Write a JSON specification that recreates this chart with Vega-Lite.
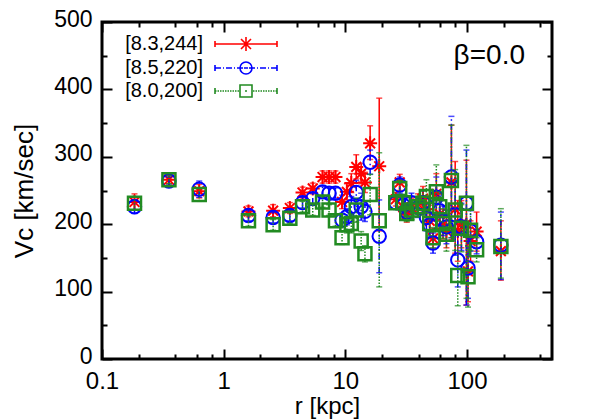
{
"$schema": "https://vega.github.io/schema/vega-lite/v6.json",
"width": 450, "height": 337,
"autosize": {"type": "none"},
"padding": {"left": 102, "top": 22, "right": 46, "bottom": 60},
"background": "white",
"title": {"text": "β=0.0", "anchor": "end", "orient": "top", "frame": "group", "fontSize": 28, "fontWeight": "normal", "font": "Liberation Sans", "color": "black", "baseline": "alphabetic", "offset": 0, "dx": -27, "dy": 84},
"config": {
  "view": {"stroke": "black", "strokeWidth": 3},
  "font": "Liberation Sans",
  "axis": {"grid": false, "domain": false, "tickColor": "black", "tickWidth": 2, "labelColor": "black", "titleColor": "black", "labelFont": "Liberation Sans", "titleFont": "Liberation Sans", "labelFontSize": 23, "titleFontSize": 24, "titleFontWeight": "normal", "labelFlush": false, "labelOverlap": false}
},
"datasets": {"pts": [
{"s":"[8.3,244]","r":0.185,"v":233,"lo":221,"hi":245},
{"s":"[8.3,244]","r":0.355,"v":266,"lo":260,"hi":272},
{"s":"[8.3,244]","r":0.63,"v":249,"lo":239,"hi":259},
{"s":"[8.3,244]","r":1.6,"v":219,"lo":211,"hi":227},
{"s":"[8.3,244]","r":2.55,"v":220,"lo":211,"hi":229},
{"s":"[8.3,244]","r":3.5,"v":224,"lo":216,"hi":232},
{"s":"[8.3,244]","r":4.45,"v":247,"lo":239,"hi":255},
{"s":"[8.3,244]","r":5.4,"v":253,"lo":245,"hi":261},
{"s":"[8.3,244]","r":6.5,"v":270,"lo":261,"hi":279},
{"s":"[8.3,244]","r":7.35,"v":270,"lo":261,"hi":279},
{"s":"[8.3,244]","r":8.3,"v":270,"lo":261,"hi":279},
{"s":"[8.3,244]","r":9.4,"v":233,"lo":223,"hi":243},
{"s":"[8.3,244]","r":10.3,"v":248,"lo":236,"hi":260},
{"s":"[8.3,244]","r":11.2,"v":261,"lo":247,"hi":275},
{"s":"[8.3,244]","r":12.3,"v":285,"lo":267,"hi":303},
{"s":"[8.3,244]","r":13.5,"v":275,"lo":260,"hi":290},
{"s":"[8.3,244]","r":14.5,"v":262,"lo":247,"hi":277},
{"s":"[8.3,244]","r":16.0,"v":320,"lo":296,"hi":346},
{"s":"[8.3,244]","r":19.0,"v":286,"lo":190,"hi":387},
{"s":"[8.3,244]","r":26,"v":237,"lo":227,"hi":247},
{"s":"[8.3,244]","r":28,"v":262,"lo":250,"hi":274},
{"s":"[8.3,244]","r":30,"v":225,"lo":213,"hi":237},
{"s":"[8.3,244]","r":32,"v":215,"lo":203,"hi":227},
{"s":"[8.3,244]","r":35,"v":225,"lo":211,"hi":239},
{"s":"[8.3,244]","r":39.6,"v":230,"lo":215,"hi":245},
{"s":"[8.3,244]","r":43.5,"v":238,"lo":220,"hi":256},
{"s":"[8.3,244]","r":46.4,"v":222,"lo":202,"hi":242},
{"s":"[8.3,244]","r":49.4,"v":205,"lo":187,"hi":223},
{"s":"[8.3,244]","r":52.6,"v":179,"lo":164,"hi":194},
{"s":"[8.3,244]","r":56,"v":245,"lo":215,"hi":275},
{"s":"[8.3,244]","r":59.7,"v":215,"lo":193,"hi":237},
{"s":"[8.3,244]","r":63.6,"v":200,"lo":178,"hi":222},
{"s":"[8.3,244]","r":67.8,"v":190,"lo":165,"hi":215},
{"s":"[8.3,244]","r":74.5,"v":262,"lo":177,"hi":347},
{"s":"[8.3,244]","r":80,"v":222,"lo":157,"hi":293},
{"s":"[8.3,244]","r":84,"v":190,"lo":145,"hi":235},
{"s":"[8.3,244]","r":90,"v":200,"lo":165,"hi":235},
{"s":"[8.3,244]","r":99,"v":200,"lo":80,"hi":295},
{"s":"[8.3,244]","r":102,"v":130,"lo":85,"hi":175},
{"s":"[8.3,244]","r":107,"v":175,"lo":145,"hi":205},
{"s":"[8.3,244]","r":120,"v":189,"lo":160,"hi":218},
{"s":"[8.3,244]","r":190,"v":160,"lo":117,"hi":205},
{"s":"[8.5,220]","r":0.185,"v":226,"lo":216,"hi":236},
{"s":"[8.5,220]","r":0.355,"v":264,"lo":258,"hi":270},
{"s":"[8.5,220]","r":0.63,"v":252,"lo":240,"hi":264},
{"s":"[8.5,220]","r":1.6,"v":213,"lo":205,"hi":221},
{"s":"[8.5,220]","r":2.55,"v":210,"lo":202,"hi":218},
{"s":"[8.5,220]","r":3.5,"v":213,"lo":205,"hi":221},
{"s":"[8.5,220]","r":4.45,"v":232,"lo":224,"hi":240},
{"s":"[8.5,220]","r":5.4,"v":238,"lo":230,"hi":246},
{"s":"[8.5,220]","r":6.5,"v":248,"lo":240,"hi":256},
{"s":"[8.5,220]","r":7.35,"v":246,"lo":238,"hi":254},
{"s":"[8.5,220]","r":8.3,"v":246,"lo":238,"hi":254},
{"s":"[8.5,220]","r":9.4,"v":206,"lo":196,"hi":216},
{"s":"[8.5,220]","r":10.3,"v":211,"lo":199,"hi":223},
{"s":"[8.5,220]","r":11.2,"v":226,"lo":211,"hi":241},
{"s":"[8.5,220]","r":12.3,"v":247,"lo":229,"hi":265},
{"s":"[8.5,220]","r":13.5,"v":226,"lo":206,"hi":246},
{"s":"[8.5,220]","r":14.5,"v":219,"lo":204,"hi":234},
{"s":"[8.5,220]","r":16.0,"v":292,"lo":274,"hi":310},
{"s":"[8.5,220]","r":19.0,"v":182,"lo":128,"hi":236},
{"s":"[8.5,220]","r":26,"v":232,"lo":222,"hi":242},
{"s":"[8.5,220]","r":28,"v":258,"lo":246,"hi":270},
{"s":"[8.5,220]","r":30,"v":228,"lo":216,"hi":240},
{"s":"[8.5,220]","r":32,"v":218,"lo":206,"hi":230},
{"s":"[8.5,220]","r":35,"v":232,"lo":218,"hi":246},
{"s":"[8.5,220]","r":39.6,"v":225,"lo":210,"hi":240},
{"s":"[8.5,220]","r":43.5,"v":232,"lo":214,"hi":250},
{"s":"[8.5,220]","r":46.4,"v":210,"lo":190,"hi":230},
{"s":"[8.5,220]","r":49.4,"v":199,"lo":181,"hi":217},
{"s":"[8.5,220]","r":52.6,"v":172,"lo":157,"hi":187},
{"s":"[8.5,220]","r":56,"v":240,"lo":210,"hi":270},
{"s":"[8.5,220]","r":59.7,"v":220,"lo":198,"hi":242},
{"s":"[8.5,220]","r":63.6,"v":205,"lo":183,"hi":227},
{"s":"[8.5,220]","r":67.8,"v":196,"lo":171,"hi":221},
{"s":"[8.5,220]","r":74.5,"v":270,"lo":180,"hi":360},
{"s":"[8.5,220]","r":80,"v":214,"lo":154,"hi":274},
{"s":"[8.5,220]","r":84,"v":147,"lo":107,"hi":187},
{"s":"[8.5,220]","r":90,"v":196,"lo":161,"hi":231},
{"s":"[8.5,220]","r":99,"v":231,"lo":80,"hi":310},
{"s":"[8.5,220]","r":102,"v":135,"lo":90,"hi":180},
{"s":"[8.5,220]","r":107,"v":190,"lo":160,"hi":220},
{"s":"[8.5,220]","r":120,"v":174,"lo":156,"hi":192},
{"s":"[8.5,220]","r":190,"v":169,"lo":118,"hi":218},
{"s":"[8.0,200]","r":0.185,"v":231,"lo":221,"hi":241},
{"s":"[8.0,200]","r":0.355,"v":266,"lo":260,"hi":272},
{"s":"[8.0,200]","r":0.63,"v":244,"lo":234,"hi":254},
{"s":"[8.0,200]","r":1.6,"v":205,"lo":197,"hi":213},
{"s":"[8.0,200]","r":2.55,"v":199,"lo":191,"hi":207},
{"s":"[8.0,200]","r":3.5,"v":209,"lo":201,"hi":217},
{"s":"[8.0,200]","r":4.45,"v":226,"lo":218,"hi":234},
{"s":"[8.0,200]","r":5.4,"v":221,"lo":213,"hi":229},
{"s":"[8.0,200]","r":6.5,"v":233,"lo":225,"hi":241},
{"s":"[8.0,200]","r":7.35,"v":221,"lo":213,"hi":229},
{"s":"[8.0,200]","r":8.3,"v":205,"lo":197,"hi":213},
{"s":"[8.0,200]","r":9.4,"v":180,"lo":170,"hi":190},
{"s":"[8.0,200]","r":10.3,"v":199,"lo":187,"hi":211},
{"s":"[8.0,200]","r":11.2,"v":201,"lo":187,"hi":215},
{"s":"[8.0,200]","r":12.3,"v":221,"lo":203,"hi":239},
{"s":"[8.0,200]","r":13.5,"v":175,"lo":161,"hi":189},
{"s":"[8.0,200]","r":14.5,"v":156,"lo":144,"hi":168},
{"s":"[8.0,200]","r":16.0,"v":244,"lo":214,"hi":274},
{"s":"[8.0,200]","r":19.0,"v":205,"lo":107,"hi":306},
{"s":"[8.0,200]","r":26,"v":232,"lo":222,"hi":242},
{"s":"[8.0,200]","r":28,"v":253,"lo":241,"hi":265},
{"s":"[8.0,200]","r":30,"v":232,"lo":220,"hi":244},
{"s":"[8.0,200]","r":32,"v":216,"lo":204,"hi":228},
{"s":"[8.0,200]","r":35,"v":221,"lo":207,"hi":235},
{"s":"[8.0,200]","r":39.6,"v":226,"lo":211,"hi":241},
{"s":"[8.0,200]","r":43.5,"v":231,"lo":213,"hi":249},
{"s":"[8.0,200]","r":46.4,"v":241,"lo":216,"hi":266},
{"s":"[8.0,200]","r":49.4,"v":201,"lo":183,"hi":219},
{"s":"[8.0,200]","r":52.6,"v":180,"lo":165,"hi":195},
{"s":"[8.0,200]","r":56,"v":248,"lo":213,"hi":288},
{"s":"[8.0,200]","r":59.7,"v":226,"lo":204,"hi":248},
{"s":"[8.0,200]","r":63.6,"v":201,"lo":179,"hi":223},
{"s":"[8.0,200]","r":67.8,"v":185,"lo":160,"hi":210},
{"s":"[8.0,200]","r":74.5,"v":265,"lo":180,"hi":347},
{"s":"[8.0,200]","r":80,"v":221,"lo":161,"hi":281},
{"s":"[8.0,200]","r":84,"v":124,"lo":79,"hi":169},
{"s":"[8.0,200]","r":90,"v":194,"lo":159,"hi":229},
{"s":"[8.0,200]","r":99,"v":231,"lo":90,"hi":317},
{"s":"[8.0,200]","r":102,"v":122,"lo":77,"hi":167},
{"s":"[8.0,200]","r":107,"v":191,"lo":161,"hi":221},
{"s":"[8.0,200]","r":120,"v":162,"lo":144,"hi":180},
{"s":"[8.0,200]","r":190,"v":167,"lo":120,"hi":223}
]},
"data": {"name": "pts"},
"resolve": {"axis": {"x": "independent", "y": "independent"}},
"layer": [
  {"transform": [{"filter": "datum.s == '[8.3,244]'"}],
   "mark": {"type": "rule", "strokeWidth": 1.5, "color": "#ff0000"},
   "encoding": {
    "x": {"field": "r", "type": "quantitative", "scale": {"type": "log", "domain": [0.1, 500], "nice": false},
          "axis": {"orient": "bottom", "values": [0.1, 1, 10, 100], "format": "~g", "tickSize": -10, "labelPadding": 20, "labelFontSize": 24, "title": "r [kpc]", "titlePadding": 1}},
    "y": {"field": "lo", "type": "quantitative", "scale": {"domain": [0, 500], "nice": false},
          "axis": {"orient": "left", "values": [0, 100, 200, 300, 400, 500], "tickSize": -10, "labelPadding": 20, "labelOffset": -3, "title": "Vc [km/sec]", "titleFontSize": 26, "titlePadding": 16}},
    "y2": {"field": "hi"}}},
  {"transform": [{"filter": "datum.s == '[8.3,244]'"}],
   "mark": {"type": "tick", "orient": "horizontal", "size": 6, "thickness": 1.5, "color": "#ff0000"},
   "encoding": {"x": {"field": "r", "type": "quantitative", "axis": null}, "y": {"field": "lo", "type": "quantitative", "axis": null}}},
  {"transform": [{"filter": "datum.s == '[8.3,244]'"}],
   "mark": {"type": "tick", "orient": "horizontal", "size": 6, "thickness": 1.5, "color": "#ff0000"},
   "encoding": {"x": {"field": "r", "type": "quantitative", "axis": null}, "y": {"field": "hi", "type": "quantitative", "axis": null}}},
  {"transform": [{"filter": "datum.s == '[8.3,244]'"}],
   "mark": {"type": "point", "shape": "M-1,0H1M0,-1V1M-0.7,-0.7L0.7,0.7M-0.7,0.7L0.7,-0.7", "size": 196, "strokeWidth": 2, "filled": false, "opacity": 1, "color": "#ff0000"},
   "encoding": {"x": {"field": "r", "type": "quantitative", "axis": null}, "y": {"field": "v", "type": "quantitative", "axis": null}}},
  {"transform": [{"filter": "datum.s == '[8.5,220]'"}],
   "mark": {"type": "rule", "strokeWidth": 1.5, "strokeDash": [6, 3, 1.5, 3], "color": "#0000ff"},
   "encoding": {
    "x": {"field": "r", "type": "quantitative", "axis": {"orient": "bottom", "values": [0.2,0.4,0.6,0.8,2,4,6,8,20,40,60,80,200,400], "tickSize": -5, "labels": false, "title": null}},
    "y": {"field": "lo", "type": "quantitative", "axis": {"orient": "left", "values": [50,150,250,350,450], "tickSize": -5, "labels": false, "title": null}},
    "y2": {"field": "hi"}}},
  {"transform": [{"filter": "datum.s == '[8.5,220]'"}],
   "mark": {"type": "tick", "orient": "horizontal", "size": 6, "thickness": 1.5, "color": "#0000ff"},
   "encoding": {"x": {"field": "r", "type": "quantitative", "axis": null}, "y": {"field": "lo", "type": "quantitative", "axis": null}}},
  {"transform": [{"filter": "datum.s == '[8.5,220]'"}],
   "mark": {"type": "tick", "orient": "horizontal", "size": 6, "thickness": 1.5, "color": "#0000ff"},
   "encoding": {"x": {"field": "r", "type": "quantitative", "axis": null}, "y": {"field": "hi", "type": "quantitative", "axis": null}}},
  {"transform": [{"filter": "datum.s == '[8.5,220]'"}],
   "mark": {"type": "point", "shape": "circle", "size": 180, "strokeWidth": 2, "filled": false, "opacity": 1, "color": "#0000ff"},
   "encoding": {"x": {"field": "r", "type": "quantitative", "axis": null}, "y": {"field": "v", "type": "quantitative", "axis": null}}},
  {"transform": [{"filter": "datum.s == '[8.0,200]'"}],
   "mark": {"type": "rule", "strokeWidth": 1.5, "strokeDash": [1.5, 1.5], "color": "#228b22"},
   "encoding": {
    "x": {"field": "r", "type": "quantitative", "axis": {"orient": "top", "values": [0.1, 1, 10, 100], "tickSize": -10, "labels": false, "title": null}},
    "y": {"field": "lo", "type": "quantitative", "axis": {"orient": "right", "values": [0, 100, 200, 300, 400, 500], "tickSize": -10, "labels": false, "title": null}},
    "y2": {"field": "hi"}}},
  {"transform": [{"filter": "datum.s == '[8.0,200]'"}],
   "mark": {"type": "tick", "orient": "horizontal", "size": 6, "thickness": 1.5, "color": "#228b22"},
   "encoding": {"x": {"field": "r", "type": "quantitative", "axis": null}, "y": {"field": "lo", "type": "quantitative", "axis": null}}},
  {"transform": [{"filter": "datum.s == '[8.0,200]'"}],
   "mark": {"type": "tick", "orient": "horizontal", "size": 6, "thickness": 1.5, "color": "#228b22"},
   "encoding": {"x": {"field": "r", "type": "quantitative", "axis": null}, "y": {"field": "hi", "type": "quantitative", "axis": null}}},
  {"transform": [{"filter": "datum.s == '[8.0,200]'"}],
   "mark": {"type": "point", "shape": "square", "size": 169, "strokeWidth": 2.5, "filled": false, "opacity": 1, "color": "#228b22"},
   "encoding": {"x": {"field": "r", "type": "quantitative", "axis": null}, "y": {"field": "v", "type": "quantitative", "axis": null}}},
  {"data": {"values": [{"s": "[8.3,244]", "r": 1000, "v": -1000}, {"s": "[8.5,220]", "r": 1000, "v": -1000}, {"s": "[8.0,200]", "r": 1000, "v": -1000}]},
   "mark": {"type": "point", "filled": false, "clip": true, "strokeWidth": 1.5, "opacity": 1},
   "encoding": {
    "x": {"field": "r", "type": "quantitative", "axis": {"orient": "top", "values": [0.2,0.4,0.6,0.8,2,4,6,8,20,40,60,80,200,400], "tickSize": -5, "labels": false, "title": null}},
    "y": {"field": "v", "type": "quantitative", "axis": {"orient": "right", "values": [50,150,250,350,450], "tickSize": -5, "labels": false, "title": null}},
    "color": {"field": "s", "type": "nominal",
      "scale": {"domain": ["[8.3,244]", "[8.5,220]", "[8.0,200]"], "range": ["#ff0000", "#0000ff", "#228b22"]},
      "legend": {"title": null, "orient": "none", "legendX": 134, "legendY": 12, "symbolSize": 4, "symbolStrokeWidth": 1.6, "labelAlign": "right", "labelOffset": -53, "labelFontSize": 20, "labelFont": "Liberation Sans", "labelColor": "black", "rowPadding": 3, "padding": 0, "labelLimit": 0}},
    "shape": {"field": "s", "type": "nominal",
      "scale": {"domain": ["[8.3,244]", "[8.5,220]", "[8.0,200]"], "range": [
        "M-31,0H31M-31,-3V3M31,-3V3M-7,0H7M0,-7V7M-5,-5L5,5M-5,5L5,-5",
        "M-31,0H-25M-23,0H-22M-20,0H-14M-12,0H-11M-9,0H-3M-2,0H2M3,0H9M11,0H12M14,0H20M22,0H23M25,0H31M-31,-3V3M31,-3V3M6,0A6,6 0 1,1 -6,0A6,6 0 1,1 6,0",
        "M-31,0H-29.5M-28.5,0H-27M-26,0H-24.5M-23.5,0H-22M-21,0H-19.5M-18.5,0H-17M-16,0H-14.5M-13.5,0H-12M-11,0H-9.5M-8.5,0H-7M-1,0H1M7,0H8.5M9.5,0H11M12,0H13.5M14.5,0H16M17,0H18.5M19.5,0H21M22,0H23.5M24.5,0H26M27,0H28.5M29.5,0H31M-31,-3V3M31,-3V3M-6,-6H6V6H-6Z"]},
      "legend": {"title": null, "orient": "none", "legendX": 134, "legendY": 12, "symbolSize": 4, "symbolStrokeWidth": 1.6, "labelAlign": "right", "labelOffset": -53, "labelFontSize": 20, "labelFont": "Liberation Sans", "labelColor": "black", "rowPadding": 3, "padding": 0, "labelLimit": 0}}
   }}
]
}
